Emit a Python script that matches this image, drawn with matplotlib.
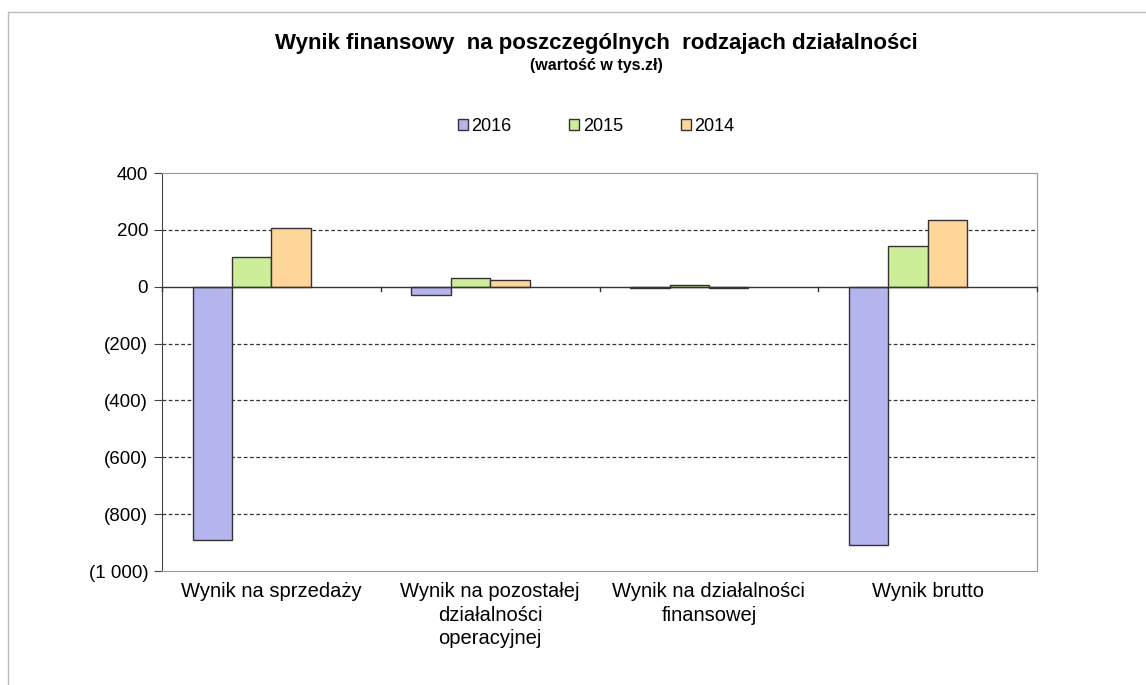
import numpy as np
import matplotlib.pyplot as plt
from matplotlib.patches import Rectangle
from matplotlib.ticker import FuncFormatter

plt.rcParams['font.family'] = ['Liberation Sans', 'DejaVu Sans']

categories = ["Wynik na sprzedaży", "Wynik na pozostałej\ndziałalności\noperacyjnej",
              "Wynik na działalności\nfinansowej", "Wynik brutto"]
years = ["2016", "2015", "2014"]
v2016 = [-890, -29, -6, -910]
v2015 = [104, 32, 7, 145]
v2014 = [205, 23, -5, 235]
colors = ["#b4b4ee", "#ccee99", "#ffd699"]

fig = plt.figure(figsize=(11.46, 6.85), dpi=100)
ax = fig.add_axes([0.1414, 0.1664, 0.7635, 0.581])

x = np.arange(len(categories))
w = 0.18
# Excel-style layout: 4 slots per group, last one empty
for i, (vals, col, lab) in enumerate(zip([v2016, v2015, v2014], colors, years)):
    ax.bar(x + (i - 1.5) * w, vals, w, color=col, edgecolor="#333333",
           linewidth=1.0, label=lab, zorder=3)

ax.set_xlim(-0.5, len(categories) - 0.5)
ax.set_ylim(-1000, 400)
ax.set_yticks(np.arange(-1000, 401, 200))


def fmt(v, pos):
    v = int(round(v))
    if v < 0:
        s = f"{-v:,}".replace(",", " ")
        return f"({s})"
    return f"{v}"


ax.yaxis.set_major_formatter(FuncFormatter(fmt))
ax.tick_params(axis="y", labelsize=13.5, length=6, color="#444444", pad=4)
for g in [200, -200, -400, -600, -800]:
    ax.axhline(g, color="#333333", linestyle=(0, (3, 2)), linewidth=0.9, zorder=1)
ax.axhline(0, color="#333333", linewidth=1.0, zorder=4)

# category ticks on the zero line
for b in np.arange(-0.5, len(categories), 1.0):
    ax.plot([b, b], [0, -14], color="#333333", linewidth=1.0, zorder=4, clip_on=False)

ax.set_xticks(x)
ax.set_xticklabels(categories, fontsize=14.5, linespacing=1.3)
ax.tick_params(axis="x", length=0, pad=8)

for s in ["top", "right", "bottom"]:
    ax.spines[s].set_color("#999999")
ax.spines["left"].set_color("#444444")

fig.text(0.52, 0.928, "Wynik finansowy  na poszczególnych  rodzajach działalności",
         ha="center", fontsize=16, fontweight="bold")
fig.text(0.52, 0.898, "(wartość w tys.zł)", ha="center", fontsize=11.5, fontweight="bold")

fig.legend(loc="center", bbox_to_anchor=(0.52, 0.815), ncol=3, frameon=False,
           fontsize=13, handlelength=0.55, handleheight=0.55, handletextpad=0.2,
           columnspacing=3.2)

# chart border
fig.patches.append(Rectangle((8 / 1146, -0.1), 1.2, (1 - 12 / 685) + 0.1,
                             transform=fig.transFigure, fill=False,
                             edgecolor="#bbbbbb", linewidth=1.0))

fig.savefig("out.png", dpi=100)
